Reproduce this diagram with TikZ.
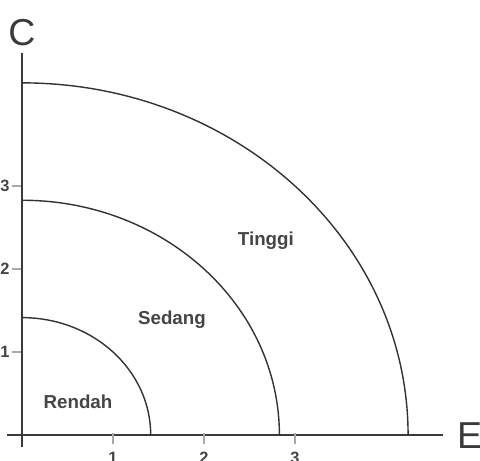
\documentclass[tikz,border=0pt]{standalone}
\usepackage{fontspec}
\setmainfont{Liberation Sans}
\usepackage{tikz}
\usetikzlibrary{positioning}
\definecolor{axisgray}{HTML}{3A3A3A}
\definecolor{arcgray}{HTML}{333333}
\definecolor{tickgray}{HTML}{A8A8A8}
\definecolor{zonetext}{HTML}{454545}
\tikzset{
  % Axes and ticks
  axisline/.style={draw=axisgray, line width=1.5pt},
  tickline/.style={draw=tickgray, line width=0.9pt},
  ticklabel/.style={font=\fontsize{14}{16}\selectfont\bfseries, text=zonetext, inner sep=0pt},
  axistitle/.style={font=\fontsize{32}{34}\selectfont, text=axisgray, inner sep=0pt},
  % Zone boundaries and names
  zonearc/.style={draw=arcgray, line width=1.2pt},
  zonelabel/.style={font=\fontsize{16}{18}\selectfont\bfseries, text=zonetext, inner sep=0pt},
}
\begin{document}
\begin{tikzpicture}[x=2.73cm, y=2.49cm]
  \useasboundingbox (-0.2418,-0.313) rectangle (5.033,5.241);

  % Axes
  \coordinate (o) at (0,0);
  \coordinate (xa) at (-0.165,0);
  \coordinate (xb) at (4.626,0);
  \coordinate (ya) at (0,-0.145);
  \coordinate (yb) at (0,4.60);
  \draw[axisline] (xa) -- (xb);
  \draw[axisline] (ya) -- (yb);
  \node[axistitle, anchor=west] (etitle) at (4.78,-0.01) {E};
  \node[axistitle] (ctitle) at (0,4.85) {C};

  % Ticks
  \foreach \t in {1,2,3} {
    \draw[tickline] (\t,0.02) -- (\t,-0.11);
    \node[ticklabel] (xt\t) at (\t,-0.28) {\t};
    \draw[tickline] (-0.01,\t) -- (-0.11,\t);
    \node[ticklabel] (yt\t) at (-0.187,\t) {\t};
  }

  % Zone boundaries
  \foreach \r in {1.4142,2.8284,4.2426}
    \draw[zonearc] (\r,0) arc[start angle=0, end angle=90, radius=\r];

  % Zone names
  \node[zonelabel] (rendah) at (0.615,0.398) {Rendah};
  \node[zonelabel] (sedang) at (1.648,1.386) {Sedang};
  \node[zonelabel] (tinggi) at (2.68,2.337) {Tinggi};
\end{tikzpicture}
\end{document}
